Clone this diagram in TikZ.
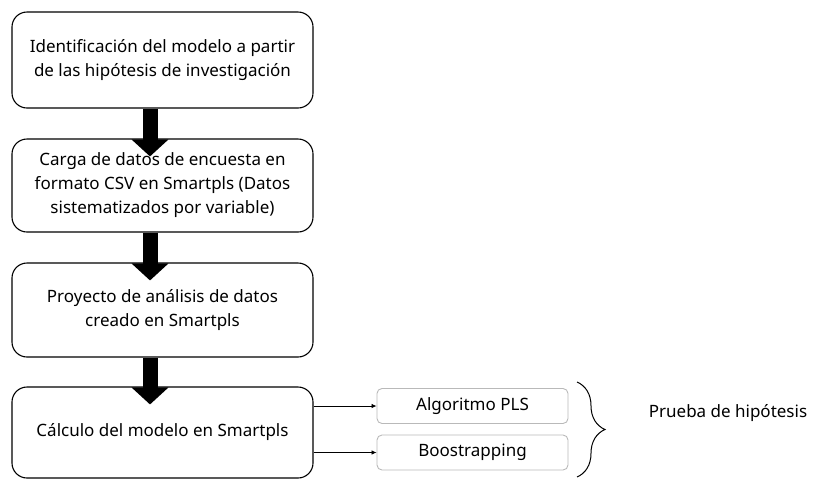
\documentclass[tikz,border=0pt]{standalone}
\usepackage{fontspec}
\setmainfont{Noto Sans}
\usetikzlibrary{arrows.meta,decorations.pathreplacing}
\begin{document}
\begin{tikzpicture}[x=1pt,y=-1pt,
  paso/.style={draw,line width=1.1pt,rounded corners=15pt,minimum width=301pt,align=center,
    font=\fontsize{17}{24}\selectfont},
  metodo/.style={draw=gray!55,line width=0.9pt,rounded corners=5pt,minimum width=191pt,
    minimum height=35pt,font=\fontsize{17}{20}\selectfont},
  flecha/.style={line width=15pt,-{Triangle[width=36pt,length=17pt]}}]
  \useasboundingbox (0,0) rectangle (837,480);
  \node[paso,minimum height=96pt] (id) at (162.5,60) {Identificación del modelo a partir\\de las hipótesis de investigación};
  \node[paso,minimum height=93pt] (carga) at (162.5,185.5) {Carga de datos de encuesta en\\formato CSV en Smartpls (Datos\\sistematizados por variable)};
  \node[paso,minimum height=94pt] (proy) at (162.5,310) {Proyecto de análisis de datos\\creado en Smartpls};
  \node[paso,minimum height=91pt] (calc) at (162.5,432.5) {Cálculo del modelo en Smartpls};
  \node[metodo] (pls) at (472.5,406) {Algoritmo PLS};
  \node[metodo] (boot) at (472.5,452.5) {Boostrapping};
  \node[font=\fontsize{17}{20}\selectfont] (prueba) at (728,413) {Prueba de hipótesis};
  % flechas gruesas
  \foreach \a/\b in {id/carga,carga/proy,proy/calc}
    \draw[flecha] ([xshift=-12.5pt]\a.south) -- ([xshift=-12.5pt,yshift=-18pt]\b.north);
  \draw[-{Latex[length=5pt,width=4.5pt]},line width=0.8pt] (pls -| calc.east) -- (pls.west);
  \draw[-{Latex[length=5pt,width=4.5pt]},line width=0.8pt] (boot -| calc.east) -- (boot.west);
  \draw[line width=1pt,decorate,decoration={brace,amplitude=28pt}] (577,382) -- (577,477);
\end{tikzpicture}
\end{document}
